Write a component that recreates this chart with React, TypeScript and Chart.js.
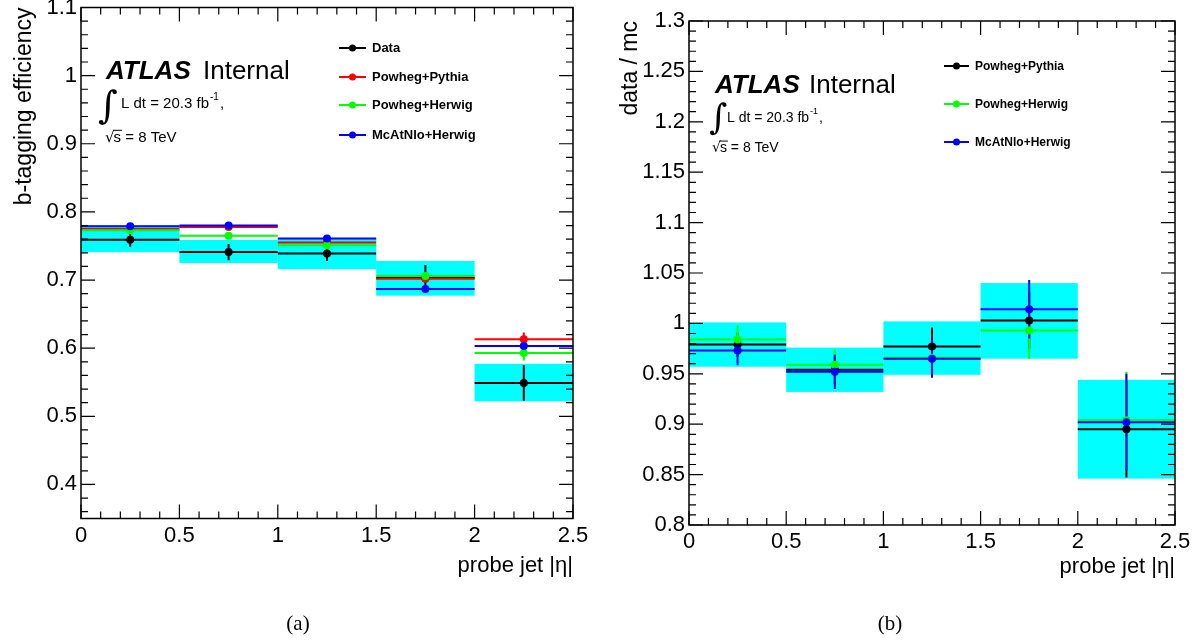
import React, { useEffect, useRef } from "react";
import { Chart, registerables } from "chart.js";
Chart.register(...registerables);

const FONT = '"Liberation Sans", Arial, Helvetica, sans-serif';
const SERIF = '"Liberation Serif", "Times New Roman", serif';

// ---------- shared binning ----------
const binEdges = [0, 0.5, 1, 1.5, 2, 2.5];
const binCenters = [0.25, 0.75, 1.25, 1.75, 2.25];
const xTicks = [0, 0.5, 1, 1.5, 2, 2.5];

// ---------- panel (a): b-tagging efficiency ----------
const effTicks = [0.4, 0.5, 0.6, 0.7, 0.8, 0.9, 1.0, 1.1];
const effData = [0.759, 0.741, 0.739, 0.703, 0.549];
const effDataErr = [0.010, 0.012, 0.011, 0.019, 0.026];
const effBandLow = [0.741, 0.725, 0.716, 0.677, 0.522];
const effBandHigh = [0.780, 0.759, 0.761, 0.728, 0.577];
const effPowhegPythia = [0.775, 0.778, 0.755, 0.702, 0.613];
const effPowhegPythiaErr = [0.003, 0.003, 0.003, 0.004, 0.010];
const effPowhegHerwig = [0.773, 0.765, 0.751, 0.706, 0.593];
const effPowhegHerwigErr = [0.003, 0.003, 0.003, 0.004, 0.011];
const effMcAtNlo = [0.779, 0.780, 0.761, 0.687, 0.603];
const effMcAtNloErr = [0.003, 0.003, 0.003, 0.005, 0.006];

// ---------- panel (b): data / mc ----------
const ratioTicks = [0.8, 0.85, 0.9, 0.95, 1.0, 1.05, 1.1, 1.15, 1.2, 1.25, 1.3];
const ratioPowhegPythia = [0.979, 0.954, 0.977, 1.003, 0.895];
const ratioPowhegPythiaErr = [0.012, 0.014, 0.019, 0.028, 0.048];
const ratioPowhegHerwig = [0.984, 0.959, 0.966, 0.993, 0.904];
const ratioPowhegHerwigErr = [0.014, 0.015, 0.017, 0.028, 0.048];
const ratioMcAtNlo = [0.973, 0.952, 0.965, 1.014, 0.902];
const ratioMcAtNloErr = [0.0145, 0.017, 0.019, 0.029, 0.048];
const ratioBandLow = [0.957, 0.932, 0.949, 0.965, 0.846];
const ratioBandHigh = [1.001, 0.976, 1.002, 1.040, 0.944];

const BLACK = "#000000";
const RED = "#ff0000";
const GREEN = "#00ff00";
const BLUE = "#0000ff";
const CYAN = "#00ffff";

interface SeriesDef {
  label: string;
  color: string;
  values: number[];
  errors: number[];
  order: number;
}

interface PanelDef {
  width: number;
  height: number;
  area: { left: number; top: number; right: number; bottom: number };
  yMin: number;
  yMax: number;
  yTicks: number[];
  yMajor: number;
  yMinor: number;
  yTitle: string;
  yTitlePad: number;
  xTitlePad: number;
  series: SeriesDef[];
  bandLow: number[];
  bandHigh: number[];
  legend: { x1: number; x2: number; textX: number; ys: number[]; size: number };
  atlas: {
    x: number; internalX: number; y: number; size: number;
    intX: number; intY: number; intSize: number;
    lumiX: number; lumiY: number; lumiSize: number;
    sqrtX: number; sqrtY: number;
  };
  caption: string;
  captionX: number;
  captionY: number;
}

const fmt = (v: number) => String(Math.round(v * 100) / 100);

function buildChart(canvas: HTMLCanvasElement, p: PanelDef) {
  const plugin = {
    id: "rootStyle",
    beforeDatasetsDraw(chart: any) {
      const { ctx, chartArea } = chart;
      const xs = chart.scales.x;
      const ys = chart.scales.y;
      ctx.save();
      ctx.beginPath();
      ctx.rect(chartArea.left, chartArea.top, chartArea.right - chartArea.left, chartArea.bottom - chartArea.top);
      ctx.clip();
      ctx.fillStyle = CYAN;
      for (let i = 0; i < binCenters.length; i++) {
        const x0 = xs.getPixelForValue(binEdges[i]);
        const x1 = xs.getPixelForValue(binEdges[i + 1]);
        const yt = ys.getPixelForValue(p.bandHigh[i]);
        const yb = ys.getPixelForValue(p.bandLow[i]);
        ctx.fillRect(x0, yt, x1 - x0, yb - yt);
      }
      const drawOrder = [...p.series].sort((a, b) => b.order - a.order);
      ctx.lineWidth = 2;
      for (const s of drawOrder) {
        ctx.strokeStyle = s.color;
        for (let i = 0; i < binCenters.length; i++) {
          const x0 = xs.getPixelForValue(binEdges[i]);
          const x1 = xs.getPixelForValue(binEdges[i + 1]);
          const xc = xs.getPixelForValue(binCenters[i]);
          const yv = ys.getPixelForValue(s.values[i]);
          const ylo = ys.getPixelForValue(s.values[i] - s.errors[i]);
          const yhi = ys.getPixelForValue(s.values[i] + s.errors[i]);
          ctx.beginPath();
          ctx.moveTo(x0, yv);
          ctx.lineTo(x1, yv);
          ctx.moveTo(xc, ylo);
          ctx.lineTo(xc, yhi);
          ctx.stroke();
        }
      }
      ctx.restore();
    },
    afterDraw(chart: any) {
      const { ctx, chartArea } = chart;
      const xs = chart.scales.x;
      const ys = chart.scales.y;
      const { left, right, top, bottom } = chartArea;
      ctx.save();
      // frame
      ctx.strokeStyle = "#000";
      ctx.lineWidth = 1.5;
      ctx.strokeRect(left, top, right - left, bottom - top);
      ctx.lineWidth = 1.2;
      ctx.beginPath();
      // x ticks (bottom and top)
      for (let k = 0; k <= 25; k++) {
        const v = k * 0.1;
        const major = k % 5 === 0;
        const len = major ? 14 : 7;
        const px = xs.getPixelForValue(v);
        ctx.moveTo(px, bottom);
        ctx.lineTo(px, bottom - len);
        ctx.moveTo(px, top);
        ctx.lineTo(px, top + len);
      }
      // y ticks (left and right)
      const kMin = Math.ceil(p.yMin / p.yMinor - 1e-6);
      const kMax = Math.floor(p.yMax / p.yMinor + 1e-6);
      const ratio = Math.round(p.yMajor / p.yMinor);
      for (let k = kMin; k <= kMax; k++) {
        const v = k * p.yMinor;
        const major = k % ratio === 0;
        const len = major ? 14 : 7;
        const py = ys.getPixelForValue(v);
        ctx.moveTo(left, py);
        ctx.lineTo(left + len, py);
        ctx.moveTo(right, py);
        ctx.lineTo(right - len, py);
      }
      ctx.stroke();

      // legend
      const lg = p.legend;
      p.series.forEach((s, i) => {
        const y = lg.ys[i];
        ctx.strokeStyle = s.color;
        ctx.fillStyle = s.color;
        ctx.lineWidth = 2;
        ctx.beginPath();
        ctx.moveTo(lg.x1, y);
        ctx.lineTo(lg.x2, y);
        ctx.stroke();
        ctx.beginPath();
        ctx.arc((lg.x1 + lg.x2) / 2, y, 3.5, 0, Math.PI * 2);
        ctx.fill();
        ctx.fillStyle = "#000";
        ctx.font = `bold ${lg.size}px ${FONT}`;
        ctx.textAlign = "left";
        ctx.textBaseline = "middle";
        ctx.fillText(s.label, lg.textX, y + 0.5);
      });

      // ATLAS label
      const a = p.atlas;
      ctx.fillStyle = "#000";
      ctx.textBaseline = "alphabetic";
      ctx.textAlign = "left";
      ctx.font = `italic bold ${a.size}px ${FONT}`;
      ctx.fillText("ATLAS", a.x, a.y);
      ctx.font = `${a.size}px ${FONT}`;
      ctx.fillText("Internal", a.internalX, a.y);
      // integral sign
      ctx.font = `${a.intSize}px "DejaVu Serif", ${SERIF}`;
      ctx.fillText("\u222B", a.intX, a.intY);
      ctx.font = `${a.lumiSize}px ${FONT}`;
      const lumi = "L dt = 20.3 fb";
      ctx.fillText(lumi, a.lumiX, a.lumiY);
      const lw = ctx.measureText(lumi).width;
      ctx.font = `${Math.round(a.lumiSize * 0.65)}px ${FONT}`;
      ctx.fillText("-1", a.lumiX + lw + 1, a.lumiY - a.lumiSize * 0.55);
      const sw = ctx.measureText("-1").width;
      ctx.font = `${a.lumiSize}px ${FONT}`;
      ctx.fillText(",", a.lumiX + lw + sw + 2, a.lumiY);
      // sqrt(s)
      ctx.font = `${a.lumiSize}px "DejaVu Sans", ${FONT}`;
      ctx.fillText("\u221A", a.sqrtX, a.sqrtY);
      const rw = ctx.measureText("\u221A").width;
      ctx.font = `${a.lumiSize}px ${FONT}`;
      ctx.fillText("s", a.sqrtX + rw - 1, a.sqrtY);
      const sW = ctx.measureText("s").width;
      ctx.lineWidth = 1;
      ctx.strokeStyle = "#000";
      ctx.beginPath();
      ctx.moveTo(a.sqrtX + rw - 1.5, a.sqrtY - a.lumiSize * 0.78);
      ctx.lineTo(a.sqrtX + rw + sW, a.sqrtY - a.lumiSize * 0.78);
      ctx.stroke();
      ctx.fillText(" = 8 TeV", a.sqrtX + rw - 1 + sW, a.sqrtY);

      // caption
      ctx.font = `21px ${SERIF}`;
      ctx.textAlign = "center";
      ctx.textBaseline = "middle";
      ctx.fillText(p.caption, p.captionX, p.captionY);
      ctx.restore();
    },
  };

  return new Chart(canvas, {
    type: "scatter",
    data: {
      datasets: p.series.map((s) => ({
        label: s.label,
        data: binCenters.map((c, i) => ({ x: c, y: s.values[i] })),
        pointRadius: 4,
        pointHoverRadius: 4,
        pointBackgroundColor: s.color,
        pointBorderColor: s.color,
        pointBorderWidth: 0,
        showLine: false,
        order: s.order,
      })),
    },
    options: {
      responsive: false,
      animation: false,
      events: [],
      layout: { padding: { left: 0, top: p.area.top, right: p.width - p.area.right, bottom: 0 } },
      plugins: { legend: { display: false }, tooltip: { enabled: false } },
      scales: {
        x: {
          type: "linear",
          min: 0,
          max: 2.5,
          grid: { display: false, drawTicks: false },
          border: { display: false },
          afterBuildTicks: (s: any) => {
            s.ticks = xTicks.map((v) => ({ value: v }));
          },
          afterFit: (s: any) => {
            s.height = p.height - p.area.bottom;
            s.paddingLeft = 0;
            s.paddingRight = 0;
          },
          ticks: {
            color: "#000",
            font: { family: FONT, size: 22 },
            padding: 4,
            maxRotation: 0,
            autoSkip: false,
            callback: (v: any) => fmt(Number(v)),
          },
          title: {
            display: true,
            text: "probe jet |\u03B7|",
            align: "end",
            color: "#000",
            font: { family: FONT, size: 22 },
            padding: { top: 0, bottom: p.xTitlePad },
          },
        },
        y: {
          type: "linear",
          min: p.yMin,
          max: p.yMax,
          grid: { display: false, drawTicks: false },
          border: { display: false },
          afterBuildTicks: (s: any) => {
            s.ticks = p.yTicks.map((v) => ({ value: v }));
          },
          afterFit: (s: any) => {
            s.width = p.area.left;
            s.paddingTop = 0;
            s.paddingBottom = 0;
          },
          ticks: {
            color: "#000",
            font: { family: FONT, size: 22 },
            padding: 4,
            autoSkip: false,
            callback: (v: any) => fmt(Number(v)),
          },
          title: {
            display: true,
            text: p.yTitle,
            align: "end",
            color: "#000",
            font: { family: FONT, size: 23 },
            padding: { top: p.yTitlePad, bottom: 0 },
          },
        },
      },
    },
    plugins: [plugin],
  } as any);
}

const panelA: PanelDef = {
  width: 600,
  height: 644,
  area: { left: 81, top: 7.5, right: 573, bottom: 518.5 },
  yMin: 0.35,
  yMax: 1.1,
  yTicks: effTicks,
  yMajor: 0.1,
  yMinor: 0.02,
  yTitle: "b-tagging efficiency",
  yTitlePad: 10.5,
  xTitlePad: 65,
  series: [
    { label: "Data", color: BLACK, values: effData, errors: effDataErr, order: 4 },
    { label: "Powheg+Pythia", color: RED, values: effPowhegPythia, errors: effPowhegPythiaErr, order: 3 },
    { label: "Powheg+Herwig", color: GREEN, values: effPowhegHerwig, errors: effPowhegHerwigErr, order: 2 },
    { label: "McAtNlo+Herwig", color: BLUE, values: effMcAtNlo, errors: effMcAtNloErr, order: 1 },
  ],
  bandLow: effBandLow,
  bandHigh: effBandHigh,
  legend: { x1: 339, x2: 366, textX: 372, ys: [48, 77, 105, 135], size: 13 },
  atlas: {
    x: 106, internalX: 203, y: 79, size: 26,
    intX: 98, intY: 118, intSize: 38,
    lumiX: 121, lumiY: 108, lumiSize: 15,
    sqrtX: 105, sqrtY: 142,
  },
  caption: "(a)",
  captionX: 298,
  captionY: 624,
};

const panelB: PanelDef = {
  width: 599,
  height: 644,
  area: { left: 89, top: 21, right: 575, bottom: 525 },
  yMin: 0.8,
  yMax: 1.3,
  yTicks: ratioTicks,
  yMajor: 0.05,
  yMinor: 0.01,
  yTitle: "data / mc",
  yTitlePad: 16.5,
  xTitlePad: 64,
  series: [
    { label: "Powheg+Pythia", color: BLACK, values: ratioPowhegPythia, errors: ratioPowhegPythiaErr, order: 3 },
    { label: "Powheg+Herwig", color: GREEN, values: ratioPowhegHerwig, errors: ratioPowhegHerwigErr, order: 2 },
    { label: "McAtNlo+Herwig", color: BLUE, values: ratioMcAtNlo, errors: ratioMcAtNloErr, order: 1 },
  ],
  bandLow: ratioBandLow,
  bandHigh: ratioBandHigh,
  legend: { x1: 344, x2: 369, textX: 375, ys: [66, 104, 142], size: 12 },
  atlas: {
    x: 115, internalX: 209, y: 93, size: 26,
    intX: 109, intY: 129, intSize: 35,
    lumiX: 127, lumiY: 122, lumiSize: 14,
    sqrtX: 112, sqrtY: 152,
  },
  caption: "(b)",
  captionX: 290,
  captionY: 624,
};

function Panel({ def, left }: { def: PanelDef; left: number }) {
  const ref = useRef<HTMLCanvasElement | null>(null);
  useEffect(() => {
    if (!ref.current) return;
    const chart = buildChart(ref.current, def);
    return () => chart.destroy();
  }, [def]);
  return (
    <canvas
      ref={ref}
      width={def.width}
      height={def.height}
      style={{ position: "absolute", left, top: 0, width: def.width, height: def.height }}
    />
  );
}

export default function App() {
  return (
    <div style={{ position: "absolute", left: 0, top: 0, width: 1199, height: 644, background: "#fff" }}>
      <Panel def={panelA} left={0} />
      <Panel def={panelB} left={600} />
    </div>
  );
}
